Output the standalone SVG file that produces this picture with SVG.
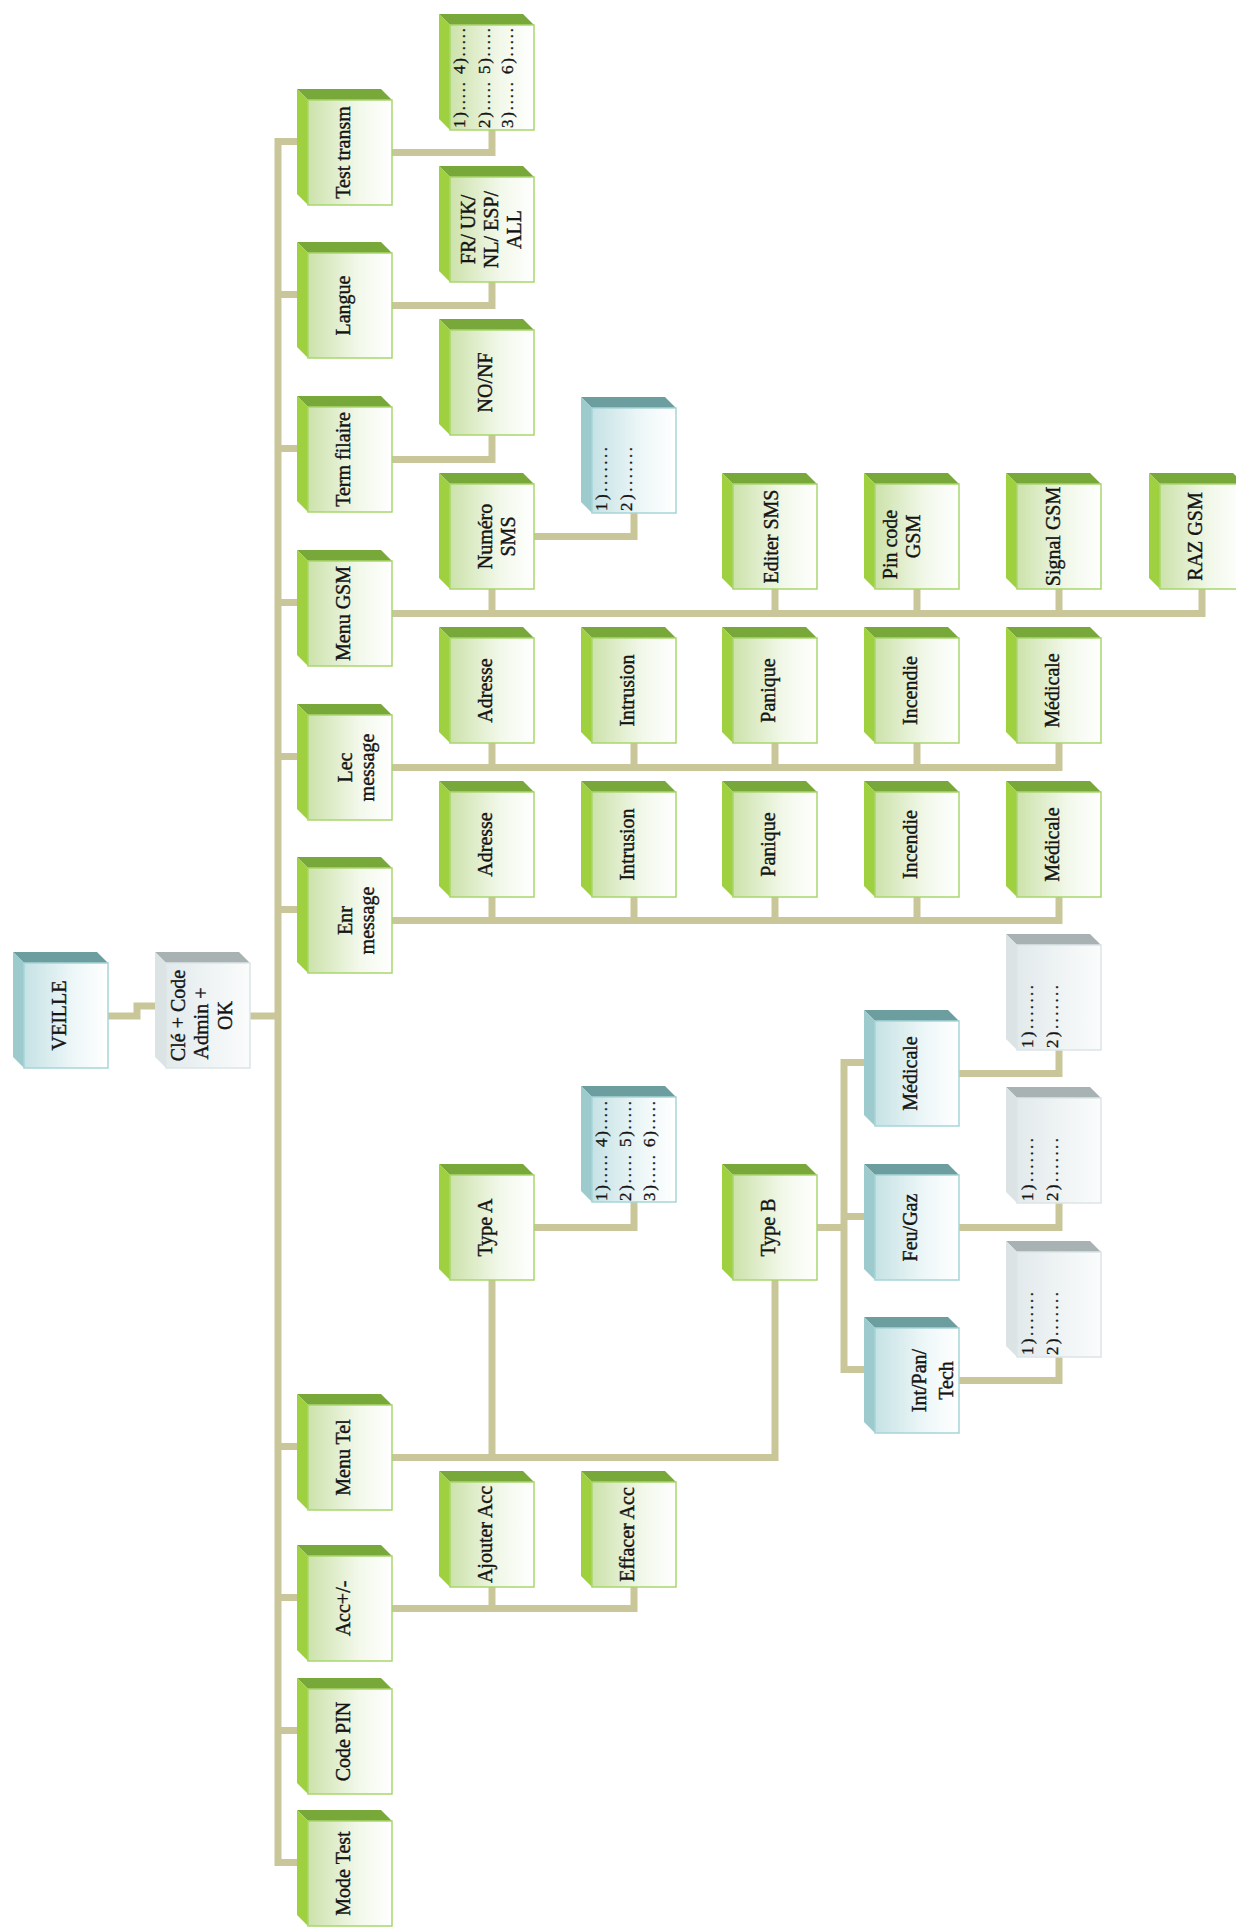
<svg xmlns="http://www.w3.org/2000/svg" xmlns:xlink="http://www.w3.org/1999/xlink" width="1236" height="1930" viewBox="0 0 1236 1930">
<style>
.gt{fill:#78a83a}.gs{fill:#9fd03f}.gf{fill:url(#gG);stroke:#a9d66e;stroke-width:1.5}
.bt{fill:#6d9e9f}.bs{fill:#9dcbcd}.bf{fill:url(#gB);stroke:#a6d5d8;stroke-width:1.5}
.st{fill:#a9b2b2}.ss{fill:#dbe3e5}.sf{fill:url(#gS);stroke:#dce5e7;stroke-width:1.5}
.t{font-family:"Liberation Serif","Times New Roman",serif;font-size:20px;fill:#141414;stroke:#141414;stroke-width:0.4;text-anchor:middle}
.l{font-family:"Liberation Serif","Times New Roman",serif;font-size:17px;fill:#141414;stroke:#141414;stroke-width:0.3;text-anchor:start}
.c path{fill:none;stroke:#c9c799;stroke-width:7;stroke-linejoin:miter}
</style>
<defs>
<linearGradient id="gG" x1="0" y1="0" x2="1" y2="0"><stop offset="0" stop-color="#cce2aa"/><stop offset="0.6" stop-color="#f2f8ea"/><stop offset="1" stop-color="#ffffff"/></linearGradient>
<linearGradient id="gB" x1="0" y1="0" x2="1" y2="0"><stop offset="0" stop-color="#c6e2e5"/><stop offset="0.6" stop-color="#eef7f8"/><stop offset="1" stop-color="#ffffff"/></linearGradient>
<linearGradient id="gS" x1="0" y1="0" x2="1" y2="0"><stop offset="0" stop-color="#e2eaec"/><stop offset="1" stop-color="#fbfcfc"/></linearGradient>
<g id="boxG"><polygon class="gt" points="-11,-11 73,-11 84,0 0,0"/><polygon class="gs" points="-11,-11 0,0 0,105 -11,94"/><rect class="gf" x="0" y="0" width="84" height="105"/></g>
<g id="boxB"><polygon class="bt" points="-11,-11 73,-11 84,0 0,0"/><polygon class="bs" points="-11,-11 0,0 0,105 -11,94"/><rect class="bf" x="0" y="0" width="84" height="105"/></g>
<g id="boxS"><polygon class="st" points="-11,-11 73,-11 84,0 0,0"/><polygon class="ss" points="-11,-11 0,0 0,105 -11,94"/><rect class="sf" x="0" y="0" width="84" height="105"/></g>
</defs>
<rect width="1236" height="1930" fill="#ffffff"/>
<g id="connectors" class="c">
<path d="M108 1016 H137 V1006 H160"/>
<path d="M250 1016 H278"/>
<path d="M302 141.5 H278 V1862.5 H302"/>
<path d="M278 294.5 H302"/><path d="M278 448.5 H302"/><path d="M278 602.5 H302"/><path d="M278 756.5 H302"/><path d="M278 909.5 H302"/>
<path d="M278 1446.5 H302"/><path d="M278 1597.5 H302"/><path d="M278 1730.5 H302"/>
<path d="M392 152.5 H492 V128"/>
<path d="M392 305.5 H492 V280"/>
<path d="M392 459.5 H492 V435"/>
<path d="M534 536.5 H634 V512"/>
<path d="M392 613.5 H1202 V588"/><path d="M492 588 V613.5"/><path d="M775 588 V613.5"/><path d="M917 588 V613.5"/><path d="M1059 588 V613.5"/>
<path d="M392 767.5 H1059 V742"/><path d="M492 742 V767.5"/><path d="M634 742 V767.5"/><path d="M775 742 V767.5"/><path d="M917 742 V767.5"/>
<path d="M392 920.5 H1059 V896"/><path d="M492 896 V920.5"/><path d="M634 896 V920.5"/><path d="M775 896 V920.5"/><path d="M917 896 V920.5"/>
<path d="M392 1457.5 H775 V1279"/><path d="M492 1279 V1457.5"/>
<path d="M534 1227.5 H634 V1201"/>
<path d="M817 1227.5 H844"/><path d="M870 1062.5 H844 V1369.5 H870"/><path d="M844 1216.5 H870"/>
<path d="M959 1073.5 H1059 V1049"/>
<path d="M959 1227.5 H1059 V1202"/>
<path d="M959 1380.5 H1059 V1356"/>
<path d="M392 1608.5 H634 V1586"/><path d="M492 1586 V1608.5"/>
</g>
<g id="n-veille"><use xlink:href="#boxB" x="24" y="963"/><text class="t" transform="translate(24,1015.5) rotate(-90)" y="42">VEILLE</text></g>
<g id="n-cle"><use xlink:href="#boxS" x="166" y="963"/><text class="t" transform="translate(166,1015.5) rotate(-90)"><tspan x="0" y="19">Clé + Code</tspan><tspan x="-8" y="42">Admin +</tspan><tspan x="0" y="66">OK</tspan></text></g>
<g id="n-test"><use xlink:href="#boxG" x="308" y="100"/><text class="t" transform="translate(308,152.5) rotate(-90)" y="42">Test transm</text></g>
<g id="n-langue"><use xlink:href="#boxG" x="308" y="253"/><text class="t" transform="translate(308,305.5) rotate(-90)" y="42">Langue</text></g>
<g id="n-term"><use xlink:href="#boxG" x="308" y="407"/><text class="t" transform="translate(308,459.5) rotate(-90)" y="42">Term filaire</text></g>
<g id="n-menugsm"><use xlink:href="#boxG" x="308" y="561"/><text class="t" transform="translate(308,613.5) rotate(-90)" y="42">Menu GSM</text></g>
<g id="n-lec"><use xlink:href="#boxG" x="308" y="715"/><text class="t" transform="translate(308,767.5) rotate(-90)"><tspan x="0" y="44">Lec</tspan><tspan x="0" y="66">message</tspan></text></g>
<g id="n-enr"><use xlink:href="#boxG" x="308" y="868"/><text class="t" transform="translate(308,920.5) rotate(-90)"><tspan x="0" y="44">Enr</tspan><tspan x="0" y="66">message</tspan></text></g>
<g id="n-menutel"><use xlink:href="#boxG" x="308" y="1405"/><text class="t" transform="translate(308,1457.5) rotate(-90)" y="42">Menu Tel</text></g>
<g id="n-acc"><use xlink:href="#boxG" x="308" y="1556"/><text class="t" transform="translate(308,1608.5) rotate(-90)" y="42">Acc+/-</text></g>
<g id="n-codepin"><use xlink:href="#boxG" x="308" y="1689"/><text class="t" transform="translate(308,1741.5) rotate(-90)" y="42">Code PIN</text></g>
<g id="n-modetest"><use xlink:href="#boxG" x="308" y="1821"/><text class="t" transform="translate(308,1873.5) rotate(-90)" y="42">Mode Test</text></g>
<g id="n-list1"><use xlink:href="#boxG" x="450" y="25"/>
<text class="l" transform="translate(450,128) rotate(-90)" y="15" textLength="100" lengthAdjust="spacing">1)..... 4).....</text>
<text class="l" transform="translate(450,128) rotate(-90)" y="40" textLength="100" lengthAdjust="spacing">2)..... 5).....</text>
<text class="l" transform="translate(450,128) rotate(-90)" y="63" textLength="100" lengthAdjust="spacing">3)..... 6).....</text></g>
<g id="n-langues"><use xlink:href="#boxG" x="450" y="177"/><text class="t" transform="translate(450,229.5) rotate(-90)"><tspan x="0" y="25">FR/ UK/</tspan><tspan x="0" y="48">NL/ ESP/</tspan><tspan x="0" y="71">ALL</tspan></text></g>
<g id="n-nonf"><use xlink:href="#boxG" x="450" y="330"/><text class="t" transform="translate(450,382.5) rotate(-90)" y="42">NO/NF</text></g>
<g id="n-numsms"><use xlink:href="#boxG" x="450" y="484"/><text class="t" transform="translate(450,536.5) rotate(-90)"><tspan x="0" y="42">Numéro</tspan><tspan x="0" y="65">SMS</tspan></text></g>
<g id="n-list2"><use xlink:href="#boxB" x="592" y="408"/>
<text class="l" transform="translate(592,511) rotate(-90)" y="15" textLength="64" lengthAdjust="spacing">1).......</text>
<text class="l" transform="translate(592,511) rotate(-90)" y="40" textLength="64" lengthAdjust="spacing">2).......</text></g>
<g id="n-editer"><use xlink:href="#boxG" x="733" y="484"/><text class="t" transform="translate(733,536.5) rotate(-90)" y="45">Editer SMS</text></g>
<g id="n-pincode"><use xlink:href="#boxG" x="875" y="484"/><text class="t" transform="translate(875,536.5) rotate(-90)"><tspan x="-8" y="22">Pin code</tspan><tspan x="0" y="45">GSM</tspan></text></g>
<g id="n-signal"><use xlink:href="#boxG" x="1017" y="484"/><text class="t" transform="translate(1017,536.5) rotate(-90)" y="43">Signal GSM</text></g>
<g id="n-raz"><use xlink:href="#boxG" x="1160" y="484"/><text class="t" transform="translate(1160,536.5) rotate(-90)" y="42">RAZ GSM</text></g>
<g id="n-lec-adresse"><use xlink:href="#boxG" x="450" y="638"/><text class="t" transform="translate(450,690.5) rotate(-90)" y="42">Adresse</text></g>
<g id="n-lec-intrusion"><use xlink:href="#boxG" x="592" y="638"/><text class="t" transform="translate(592,690.5) rotate(-90)" y="42">Intrusion</text></g>
<g id="n-lec-panique"><use xlink:href="#boxG" x="733" y="638"/><text class="t" transform="translate(733,690.5) rotate(-90)" y="42">Panique</text></g>
<g id="n-lec-incendie"><use xlink:href="#boxG" x="875" y="638"/><text class="t" transform="translate(875,690.5) rotate(-90)" y="42">Incendie</text></g>
<g id="n-lec-medicale"><use xlink:href="#boxG" x="1017" y="638"/><text class="t" transform="translate(1017,690.5) rotate(-90)" y="42">Médicale</text></g>
<g id="n-enr-adresse"><use xlink:href="#boxG" x="450" y="792"/><text class="t" transform="translate(450,844.5) rotate(-90)" y="42">Adresse</text></g>
<g id="n-enr-intrusion"><use xlink:href="#boxG" x="592" y="792"/><text class="t" transform="translate(592,844.5) rotate(-90)" y="42">Intrusion</text></g>
<g id="n-enr-panique"><use xlink:href="#boxG" x="733" y="792"/><text class="t" transform="translate(733,844.5) rotate(-90)" y="42">Panique</text></g>
<g id="n-enr-incendie"><use xlink:href="#boxG" x="875" y="792"/><text class="t" transform="translate(875,844.5) rotate(-90)" y="42">Incendie</text></g>
<g id="n-enr-medicale"><use xlink:href="#boxG" x="1017" y="792"/><text class="t" transform="translate(1017,844.5) rotate(-90)" y="42">Médicale</text></g>
<g id="n-typea"><use xlink:href="#boxG" x="450" y="1175"/><text class="t" transform="translate(450,1227.5) rotate(-90)" y="42">Type A</text></g>
<g id="n-list3"><use xlink:href="#boxB" x="592" y="1097"/>
<text class="l" transform="translate(592,1201) rotate(-90)" y="15" textLength="100" lengthAdjust="spacing">1)..... 4).....</text>
<text class="l" transform="translate(592,1201) rotate(-90)" y="39" textLength="100" lengthAdjust="spacing">2)..... 5).....</text>
<text class="l" transform="translate(592,1201) rotate(-90)" y="63" textLength="100" lengthAdjust="spacing">3)..... 6).....</text></g>
<g id="n-typeb"><use xlink:href="#boxG" x="733" y="1175"/><text class="t" transform="translate(733,1227.5) rotate(-90)" y="42">Type B</text></g>
<g id="n-tb-medicale"><use xlink:href="#boxB" x="875" y="1021"/><text class="t" transform="translate(875,1073.5) rotate(-90)" y="42">Médicale</text></g>
<g id="n-feugaz"><use xlink:href="#boxB" x="875" y="1175"/><text class="t" transform="translate(875,1227.5) rotate(-90)" y="42">Feu/Gaz</text></g>
<g id="n-intpan"><use xlink:href="#boxB" x="875" y="1328"/><text class="t" transform="translate(875,1380.5) rotate(-90)"><tspan x="0" y="51">Int/Pan/</tspan><tspan x="0" y="78">Tech</tspan></text></g>
<g id="n-grey1"><use xlink:href="#boxS" x="1017" y="945"/>
<text class="l" transform="translate(1017,1048) rotate(-90)" y="16" textLength="63" lengthAdjust="spacing">1).......</text>
<text class="l" transform="translate(1017,1048) rotate(-90)" y="41" textLength="63" lengthAdjust="spacing">2).......</text></g>
<g id="n-grey2"><use xlink:href="#boxS" x="1017" y="1098"/>
<text class="l" transform="translate(1017,1201) rotate(-90)" y="16" textLength="63" lengthAdjust="spacing">1).......</text>
<text class="l" transform="translate(1017,1201) rotate(-90)" y="41" textLength="63" lengthAdjust="spacing">2).......</text></g>
<g id="n-grey3"><use xlink:href="#boxS" x="1017" y="1252"/>
<text class="l" transform="translate(1017,1355) rotate(-90)" y="16" textLength="63" lengthAdjust="spacing">1).......</text>
<text class="l" transform="translate(1017,1355) rotate(-90)" y="41" textLength="63" lengthAdjust="spacing">2).......</text></g>
<g id="n-ajouter"><use xlink:href="#boxG" x="450" y="1482"/><text class="t" transform="translate(450,1534.5) rotate(-90)" y="42">Ajouter Acc</text></g>
<g id="n-effacer"><use xlink:href="#boxG" x="592" y="1482"/><text class="t" transform="translate(592,1534.5) rotate(-90)" y="42">Effacer Acc</text></g>
</svg>
